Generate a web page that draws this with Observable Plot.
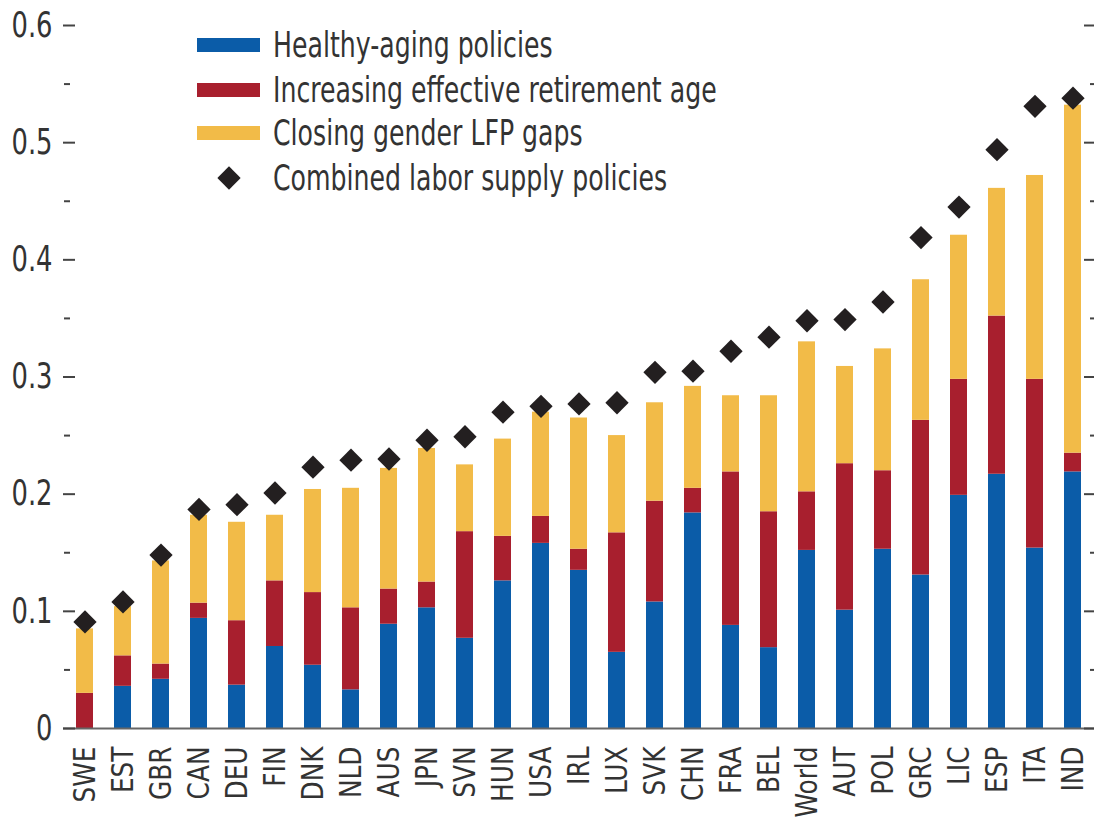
<!DOCTYPE html>
<html>
<head>
<meta charset="utf-8">
<script src="https://cdn.jsdelivr.net/npm/d3@7"></script>
<script src="https://cdn.jsdelivr.net/npm/@observablehq/plot@0.6"></script>
<style>
  html, body { margin: 0; padding: 0; background: #fff; }
  #wrap { position: relative; width: 1094px; height: 824px; overflow: hidden; }
  #legend { position: absolute; left: 0; top: 0; font-family: 'Liberation Sans Narrow', 'DejaVu Sans Condensed', sans-serif; font-size: 35px; color: #333; }
  .row { position: absolute; left: 197px; height: 44px; display: flex; align-items: center; white-space: nowrap; }
  .row span { display: inline-block; transform: scaleX(0.80); transform-origin: 0 50%; }
  .sw { width: 63px; height: 14px; margin-right: 13px; }
  .dm { width: 63px; height: 26px; margin-right: 13px; display: flex; justify-content: center; align-items: center; }
</style>
</head>
<body>
<div id="wrap">
  <div id="chart"></div>
  <div id="legend"></div>
</div>
<script>
const countries = ["SWE","EST","GBR","CAN","DEU","FIN","DNK","NLD","AUS","JPN","SVN","HUN","USA","IRL","LUX","SVK","CHN","FRA","BEL","World","AUT","POL","GRC","LIC","ESP","ITA","IND"];
const healthyAging = [0,0.036,0.042,0.094,0.037,0.070,0.054,0.033,0.089,0.103,0.077,0.126,0.158,0.135,0.065,0.108,0.184,0.088,0.069,0.152,0.101,0.153,0.131,0.199,0.217,0.154,0.219];
const retirementAge = [0.030,0.026,0.013,0.013,0.055,0.056,0.062,0.070,0.030,0.022,0.091,0.038,0.023,0.018,0.102,0.086,0.021,0.131,0.116,0.050,0.125,0.067,0.132,0.099,0.135,0.144,0.016];
const genderGap = [0.055,0.042,0.088,0.075,0.084,0.056,0.088,0.102,0.103,0.114,0.057,0.083,0.089,0.112,0.083,0.084,0.087,0.065,0.099,0.128,0.083,0.104,0.120,0.123,0.109,0.174,0.297];
const combined = [0.091,0.108,0.148,0.187,0.191,0.201,0.223,0.229,0.230,0.246,0.249,0.270,0.275,0.277,0.278,0.304,0.305,0.322,0.334,0.348,0.349,0.364,0.419,0.445,0.494,0.531,0.538];

const seriesNames = ["Healthy-aging policies","Increasing effective retirement age","Closing gender LFP gaps"];
const seriesColors = ["#0b5ca8","#a81f2e","#f2bb48"];
const combinedName = "Combined labor supply policies";
const yTicks = [0,0.1,0.2,0.3,0.4,0.5,0.6];
const yMinorTicks = [0.05,0.15,0.25,0.35,0.45,0.55];

const seriesValues = [healthyAging, retirementAge, genderGap];
const rows = [];
countries.forEach((c, i) => {
  seriesNames.forEach((s, k) => rows.push({country: c, series: s, value: seriesValues[k][i]}));
});
const dots = countries.map((c, i) => ({country: c, value: combined[i]}));

const font = "'Liberation Sans Narrow', 'DejaVu Sans Condensed', sans-serif";
const axisColor = "#444";

const chart = Plot.plot({
  width: 1094,
  height: 824,
  marginLeft: 63,
  marginRight: 0,
  marginTop: 25,
  marginBottom: 96,
  style: {fontFamily: font, fontSize: "30px", color: "#333", background: "#fff"},
  x: {domain: countries, paddingInner: 0.54, paddingOuter: 0.25, label: null},
  y: {domain: [0, 0.6], label: null},
  color: {domain: seriesNames, range: seriesColors},
  marks: [
    Plot.barY(rows, {x: "country", y: "value", fill: "series"}),
    Plot.ruleY([0], {stroke: "#666", strokeWidth: 2}),
    Plot.dot(dots, {x: "country", y: "value", symbol: "diamond2", r: 10.5, fill: "#231f20", stroke: "none"}),
    Plot.axisX({tickSize: 0, tickPadding: 18, tickRotate: -90, label: null, fontSize: 30, fill: "#333"}),
    Plot.axisY(yTicks, {anchor: "left", tickSize: 12, dx: 12, tickPadding: 11, strokeWidth: 2, stroke: axisColor, label: null, fontSize: 35, fill: "#333", tickFormat: d => d === 0 ? "0" : d.toFixed(1)}),
    Plot.axisY(yMinorTicks, {anchor: "left", tickSize: 6, dx: 7, strokeWidth: 2, stroke: axisColor, label: null, tickFormat: () => ""}),
    Plot.axisY(yTicks, {anchor: "right", tickSize: 11, dx: -11, strokeWidth: 2, stroke: axisColor, label: null, tickFormat: () => ""}),
    Plot.axisY(yMinorTicks, {anchor: "right", tickSize: 5, dx: -5, strokeWidth: 2, stroke: axisColor, label: null, tickFormat: () => ""})
  ]
});
document.getElementById("chart").appendChild(chart);

// condense the axis text to match the narrow face of the original
function condense(selector, k) {
  chart.querySelectorAll(selector).forEach(t => {
    const tr = t.getAttribute("transform") || "";
    t.setAttribute("transform", tr + ` scale(${k},1)`);
  });
}
condense('g[aria-label="y-axis tick label"] text', 0.82);
condense('g[aria-label="x-axis tick label"] text', 0.92);

// Legend
const legend = document.getElementById("legend");
const rowTops = [23, 68, 111, 156];
seriesNames.forEach((s, k) => {
  const r = document.createElement("div");
  r.className = "row";
  r.style.top = rowTops[k] + "px";
  r.innerHTML = `<div class="sw" style="background:${seriesColors[k]}"></div><span>${s}</span>`;
  legend.appendChild(r);
});
const r4 = document.createElement("div");
r4.className = "row";
r4.style.top = rowTops[3] + "px";
r4.innerHTML = `<div class="dm"><svg width="26" height="26" viewBox="-13 -13 26 26"><path d="${d3.symbol(d3.symbolDiamond2, 346)()}" fill="#231f20"/></svg></div><span>${combinedName}</span>`;
legend.appendChild(r4);
</script>
</body>
</html>
